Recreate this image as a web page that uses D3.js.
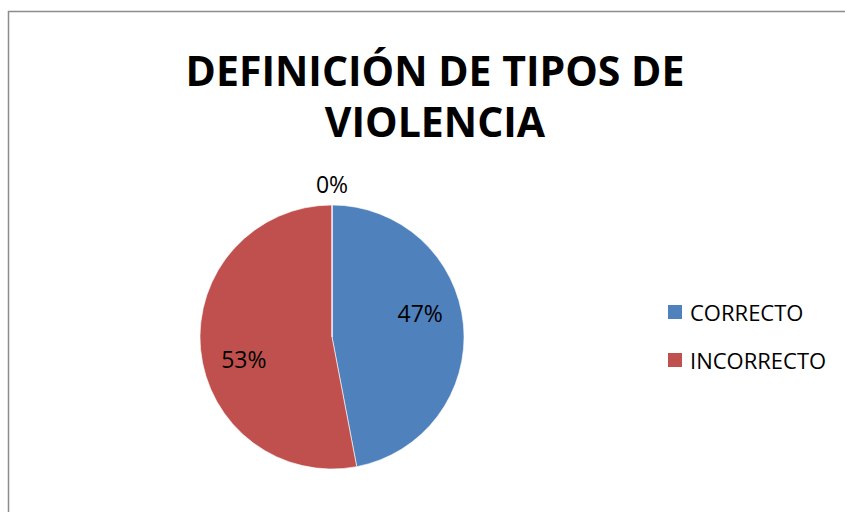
<!DOCTYPE html>
<html>
<head>
<meta charset="utf-8">
<script src="https://cdn.jsdelivr.net/npm/d3@7"></script>
<style>
  body { margin: 0; background: #fff; }
  text { font-family: "Open Sans", "Noto Sans", sans-serif; fill: #000; }
</style>
</head>
<body>
<div class="chart"></div>
<script>
const width = 845;
const height = 512;

const titleLines = ['DEFINICIÓN DE TIPOS DE', 'VIOLENCIA'];
const categories = ['CORRECTO', 'INCORRECTO', ''];
const values = [47, 53, 0];
const colors = ['#4F81BD', '#C0504D', '#9BBB59'];

const cx = 332, cy = 337, radius = 132;

const svg = d3.select('.chart').append('svg')
	.attr('width', width)
	.attr('height', height);

// chart border (only top/left are visible in the crop)
svg.append('rect')
	.attr('x', 8.5)
	.attr('y', 11.5)
	.attr('width', width + 20)
	.attr('height', height + 20)
	.attr('fill', '#fff')
	.attr('stroke', '#8c8c8c')
	.attr('stroke-width', 1.5);

svg.selectAll('.title')
	.data(titleLines)
	.enter()
	.append('text')
	.attr('class', 'title')
	.attr('x', 435)
	.attr('y', (d, i) => 86 + i * 51)
	.attr('text-anchor', 'middle')
	.style('font-size', '41px')
	.style('font-weight', 'bold')
	.text(d => d);

const data = categories.map((c, i) => ({name: c, value: values[i]}));

const pie = d3.pie()
	.sort(null)
	.value(d => d.value);

const arc = d3.arc()
	.innerRadius(0)
	.outerRadius(radius);

const outerArc = d3.arc()
	.innerRadius(radius + 20)
	.outerRadius(radius + 20);

const g = svg.append('g')
	.attr('transform', `translate(${cx},${cy})`);

const arcs = pie(data);

g.selectAll('path')
	.data(arcs)
	.enter()
	.append('path')
	.attr('d', arc)
	.attr('fill', (d, i) => colors[i])
	.attr('stroke', '#fff')
	.attr('stroke-width', 0.6);

// excel "best fit" puts the inside labels a bit counter-clockwise of the middle
function labelPos(d) {
	if (d.data.value === 0) return outerArc.centroid(d);
	const a = (d.startAngle + d.endAngle) / 2 - 0.16;
	const r = radius * 0.69;
	return [Math.sin(a) * r, -Math.cos(a) * r];
}

g.selectAll('.lbl')
	.data(arcs)
	.enter()
	.append('text')
	.attr('class', 'lbl')
	.attr('transform', d => {
		const p = labelPos(d);
		return `translate(${p[0]},${p[1]})`;
	})
	.attr('text-anchor', 'middle')
	.attr('dy', '0.35em')
	.style('font-size', '23px')
	.text(d => d3.format('.0f')(d.value) + '%');

const legend = svg.append('g')
	.attr('transform', 'translate(668,305)');

const legendItems = data.filter(d => d.name !== '');

legend.selectAll('rect')
	.data(legendItems)
	.enter()
	.append('rect')
	.attr('x', 0)
	.attr('y', (d, i) => i * 48)
	.attr('width', 14)
	.attr('height', 14)
	.attr('fill', (d, i) => colors[i]);

legend.selectAll('text')
	.data(legendItems)
	.enter()
	.append('text')
	.attr('x', 22)
	.attr('y', (d, i) => i * 48 + 16)
	.style('font-size', '22px')
	.text(d => d.name);
</script>
</body>
</html>
